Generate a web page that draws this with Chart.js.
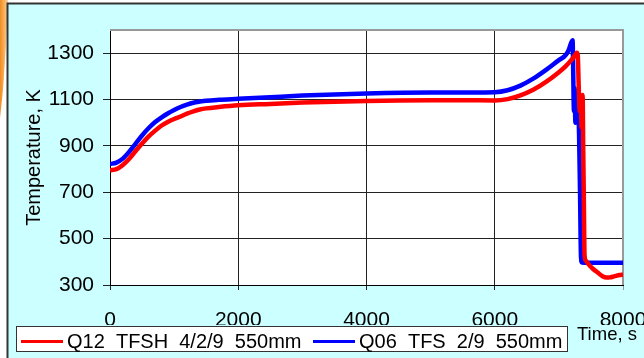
<!DOCTYPE html>
<html>
<head>
<meta charset="utf-8">
<script src="https://cdn.jsdelivr.net/npm/chart.js@4.4.0/dist/chart.umd.min.js"></script>
<style>
  html, body { margin: 0; padding: 0; background: #fff; }
</style>
</head>
<body>
<canvas id="tempChart" width="644" height="358"></canvas>
<script>
// Q12 TFSH 4/2/9 550mm (red)
const q12Time = [0, 100, 200, 300, 400, 500, 600, 700, 800, 900, 1000, 1100, 1200, 1300, 1400, 1500, 1700, 2000, 2500, 3000, 3500, 4000, 4500, 5000, 5500, 6000, 6200, 6400, 6600, 6800, 7000, 7100, 7200, 7260, 7280, 7295, 7310, 7325, 7340, 7355, 7370, 7380, 7390, 7400, 7420, 7460, 7530, 7600, 7680, 7740, 7800, 7860, 7950, 8000];
const q12Temp = [795, 800, 818, 845, 878, 910, 940, 965, 987, 1003, 1016, 1027, 1039, 1049, 1057, 1062, 1068, 1075, 1081, 1087, 1091, 1094, 1096, 1097, 1097, 1096, 1102, 1118, 1142, 1176, 1218, 1242, 1272, 1295, 1302, 1290, 1150, 1050, 1110, 980, 1120, 880, 650, 430, 405, 390, 370, 355, 338, 332, 333, 337, 343, 345];

// Q06 TFS 2/9 550mm (blue)
const q06Time = [0, 100, 200, 300, 400, 500, 600, 700, 800, 900, 1000, 1100, 1200, 1300, 1400, 1500, 1700, 2000, 2500, 3000, 3500, 4000, 5000, 6000, 6200, 6400, 6600, 6800, 7000, 7100, 7150, 7214, 7222, 7235, 7245, 7258, 7270, 7285, 7300, 7315, 7330, 7345, 7360, 7450, 8000];
const q06Temp = [822, 828, 845, 875, 910, 945, 976, 1002, 1022, 1040, 1055, 1068, 1078, 1086, 1091, 1095, 1099, 1103, 1110, 1117, 1122, 1126, 1130, 1132, 1140, 1160, 1190, 1228, 1270, 1290, 1312, 1356, 1250, 1050, 1150, 1000, 1110, 1010, 1060, 950, 700, 420, 397, 396, 396];

const xTicks = [0, 2000, 4000, 6000, 8000];
const yTicks = [300, 500, 700, 900, 1100, 1300];

const seriesNames = ["Q12  TFSH  4/2/9  550mm", "Q06  TFS  2/9  550mm"];
const seriesColors = ["#ff0000", "#0000ff"];

const FONT = "'Liberation Sans', Arial, sans-serif";
Chart.defaults.font.family = FONT;

function toPoints(xs, ys) {
  return xs.map((x, i) => ({ x: x, y: ys[i] }));
}

// background, plot frame, boxed legend and the "Time, s" label
const framePlugin = {
  id: "frame",
  beforeDraw(chart) {
    const c = chart.ctx;
    const a = chart.chartArea;
    c.save();
    c.fillStyle = "#fff";
    c.fillRect(0, 0, chart.width, chart.height);
    // orange slide decoration on the far left
    const g = c.createLinearGradient(0, 0, 8, 0);
    g.addColorStop(0, "#f28c1e");
    g.addColorStop(1, "#fbd29a");
    c.fillStyle = g;
    c.beginPath();
    c.moveTo(0, 0); c.lineTo(8, 0); c.lineTo(6, 45); c.lineTo(3, 90); c.lineTo(0, 118);
    c.closePath();
    c.fill();
    // cyan chart panel
    c.fillStyle = "#ccffff";
    c.fillRect(8, 4, chart.width, chart.height);
    c.strokeStyle = "#333";
    c.lineWidth = 2;
    c.beginPath();
    c.moveTo(7.5, chart.height + 5); c.lineTo(7.5, 3.5); c.lineTo(chart.width + 5, 3.5);
    c.stroke();
    // plot area
    c.fillStyle = "#fff";
    c.fillRect(a.left, a.top, a.right - a.left, a.bottom - a.top);
    c.restore();
  },
  beforeDatasetsDraw(chart) {
    const c = chart.ctx;
    const a = chart.chartArea;
    c.save();
    c.strokeStyle = "#999";
    c.lineWidth = 2;
    c.beginPath();
    c.moveTo(a.left, a.top); c.lineTo(a.right, a.top); c.lineTo(a.right, a.bottom);
    c.stroke();
    c.restore();
  },
  afterDraw(chart) {
    const c = chart.ctx;
    c.save();
    // legend box
    c.fillStyle = "#fff";
    c.fillRect(16.5, 326.5, 551, 25);
    c.strokeStyle = "#333";
    c.lineWidth = 1;
    c.strokeRect(16.5, 326.5, 551, 25);
    const itemX = [21, 313];
    chart.data.datasets.forEach((ds, i) => {
      c.strokeStyle = ds.borderColor;
      c.lineWidth = 3;
      c.beginPath();
      c.moveTo(itemX[i], 341.5); c.lineTo(itemX[i] + 42, 341.5);
      c.stroke();
      c.fillStyle = "#000";
      c.font = "20px " + FONT;
      c.textBaseline = "alphabetic";
      c.fillText(ds.label, itemX[i] + 46, 347.5);
    });
    // axis title at the lower right
    c.font = "18.5px " + FONT;
    c.fillText("Time, s", 577, 340);
    c.restore();
  }
};

const ctx = document.getElementById("tempChart").getContext("2d");

new Chart(ctx, {
  type: "scatter",
  data: {
    datasets: [
      {
        label: seriesNames[0],
        data: toPoints(q12Time, q12Temp),
        borderColor: seriesColors[0],
        backgroundColor: seriesColors[0],
        borderWidth: 4.5,
        showLine: true,
        pointRadius: 0,
        cubicInterpolationMode: "monotone",
      },
      {
        label: seriesNames[1],
        data: toPoints(q06Time, q06Temp),
        borderColor: seriesColors[1],
        backgroundColor: seriesColors[1],
        borderWidth: 4.5,
        showLine: true,
        pointRadius: 0,
        cubicInterpolationMode: "monotone",
      },
    ],
  },
  options: {
    responsive: false,
    animation: false,
    layout: { padding: { left: 10, right: 21, top: 30, bottom: 33 } },
    plugins: {
      legend: { display: false },
      tooltip: { enabled: false },
    },
    scales: {
      x: {
        type: "linear",
        min: 0,
        max: 8000,
        afterBuildTicks: (s) => { s.ticks = xTicks.map((v) => ({ value: v })); },
        afterFit: (s) => { s.height = 40; s.paddingLeft = 0; s.paddingRight = 0; },
        ticks: {
          font: { size: 21 }, color: "#000", padding: 18, maxRotation: 0, autoSkip: false,
          callback: (v) => String(v),
        },
        grid: {
          color: (c) => (c.tick && c.tick.value === 8000 ? "#999" : "#222"),
          tickLength: 5,
        },
        border: { color: "#000" },
      },
      y: {
        min: 300,
        max: 1400,
        afterBuildTicks: (s) => { s.ticks = yTicks.map((v) => ({ value: v })); },
        afterFit: (s) => { s.width = 100; },
        ticks: { font: { size: 21 }, color: "#000", padding: 9, callback: (v) => String(v) },
        grid: { color: "#222", tickLength: 7 },
        border: { color: "#000" },
        title: {
          display: true,
          text: "Temperature, K",
          color: "#000",
          font: { size: 20 },
          padding: { top: 12, bottom: 0 },
        },
      },
    },
  },
  plugins: [framePlugin],
});
</script>
</body>
</html>
